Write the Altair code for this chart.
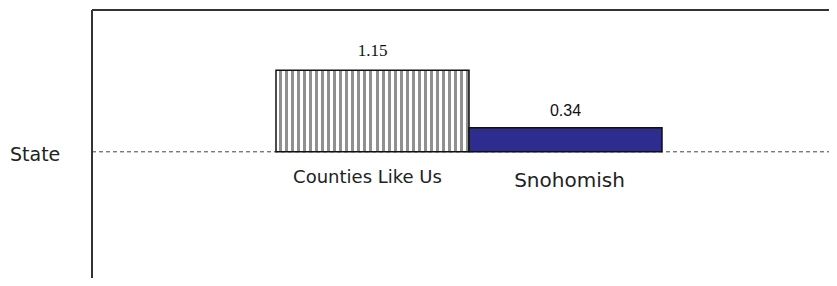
import altair as alt
import pandas as pd

categories = ["Counties Like Us", "Snohomish"]
values = [1.15, 0.34]
value_labels = ["1.15", "0.34"]
baseline_label = "State"

df = pd.DataFrame({"cat": categories, "val": values, "lab": value_labels})

# vertical stripe fill for the comparison bar
n_stripes = 32
stops = []
for i in range(n_stripes):
    a = i / n_stripes
    m = (i + 0.5) / n_stripes
    b = (i + 1) / n_stripes
    stops += [alt.GradientStop(offset=a, color="#ffffff"),
              alt.GradientStop(offset=m, color="#ffffff"),
              alt.GradientStop(offset=m, color="#909090"),
              alt.GradientStop(offset=b, color="#909090")]
stripes = alt.Gradient(gradient="linear", x1=0, y1=0, x2=1, y2=0, stops=stops)

W, H = 737, 268
xs = alt.Scale(domain=categories, range=[184, 570], paddingInner=0, paddingOuter=0)
ys = alt.Scale(domain=[-1.78, 2.0], nice=False, zero=False)
X = alt.X("cat:N", scale=xs, axis=None)
Y = alt.Y("val:Q", scale=ys, axis=None)
Y0 = alt.Y2(datum=0)

base = alt.Chart(df)

bar1 = base.transform_filter(alt.datum.cat == categories[0]).mark_bar(
    fill=stripes, stroke="#111111", strokeWidth=1.5
).encode(x=X, y=Y, y2=Y0)
bar2 = base.transform_filter(alt.datum.cat == categories[1]).mark_bar(
    fill="#2D2D8F", stroke="#111111", strokeWidth=1.5
).encode(x=X, y=Y, y2=Y0)

lab1 = base.transform_filter(alt.datum.cat == categories[0]).mark_text(
    font="Liberation Serif", fontSize=17, baseline="middle", dy=-19, color="#111111"
).encode(x=X, y=Y, text="lab:N")
lab2 = base.transform_filter(alt.datum.cat == categories[1]).mark_text(
    font="Liberation Sans", fontSize=16, baseline="middle", dy=-17, color="#111111"
).encode(x=X, y=Y, text="lab:N")

cat1 = base.transform_filter(alt.datum.cat == categories[0]).mark_text(
    font="DejaVu Sans", fontSize=18, baseline="middle", dy=26, dx=-5, color="#222222"
).encode(x=X, y=alt.Y("z:Q", scale=ys, axis=None), text="cat:N").transform_calculate(z="0")
cat2 = base.transform_filter(alt.datum.cat == categories[1]).mark_text(
    font="DejaVu Sans", fontSize=20, baseline="middle", dy=29, dx=4, color="#222222"
).encode(x=X, y=alt.Y("z:Q", scale=ys, axis=None), text="cat:N").transform_calculate(z="0")

zero = pd.DataFrame({"z": [0], "t": [baseline_label]})
dash = alt.Chart(zero).mark_rule(color="#444444", strokeDash=[4, 3], strokeWidth=1).encode(
    y=alt.Y("z:Q", scale=ys, axis=None), x=alt.value(0), x2=alt.value(W)
)
state = alt.Chart(zero).mark_text(
    font="DejaVu Sans", fontSize=19, align="left", baseline="middle", dy=3, color="#222222"
).encode(y=alt.Y("z:Q", scale=ys, axis=None), x=alt.value(-82), text="t:N")

top = alt.Chart(zero).mark_rule(color="#333333", strokeWidth=2).encode(
    y=alt.value(0), x=alt.value(0), x2=alt.value(W)
)
left = alt.Chart(zero).mark_rule(color="#333333", strokeWidth=2).encode(
    x=alt.value(0), y=alt.value(0), y2=alt.value(H)
)

chart = alt.layer(dash, bar1, bar2, lab1, lab2, cat1, cat2, state, top, left).properties(
    width=W, height=H,
    autosize=alt.AutoSizeParams(type="none"),
    padding={"left": 84, "top": 2, "right": 0, "bottom": 0},
).configure_view(stroke=None)

chart.save("out.html", embed_options={"renderer": "svg", "actions": False})
